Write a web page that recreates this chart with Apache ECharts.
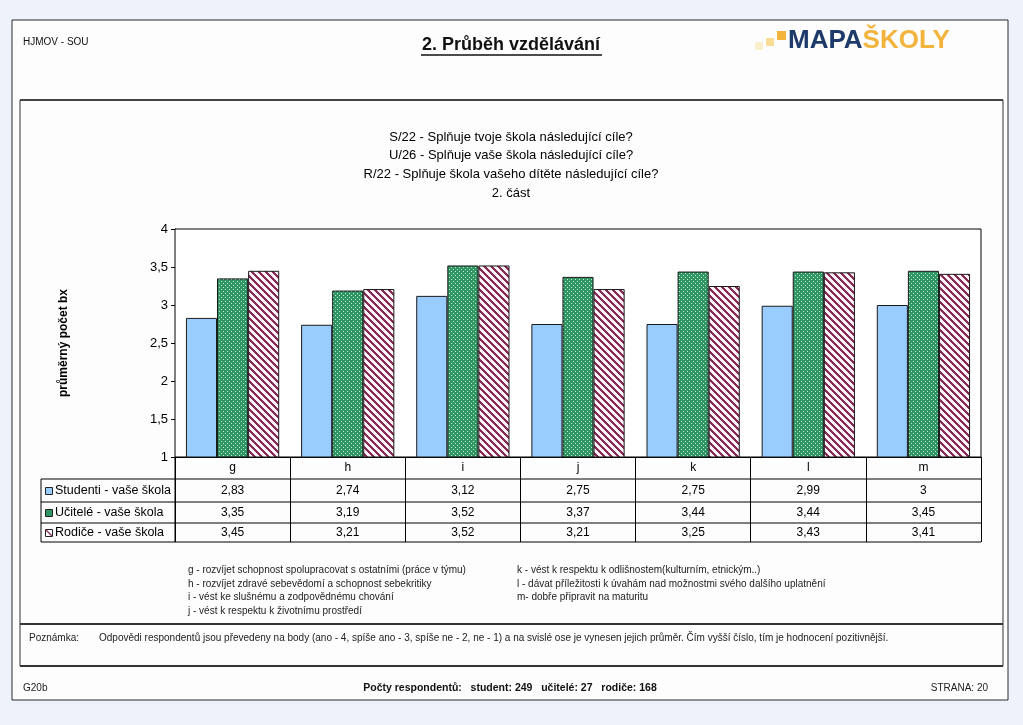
<!DOCTYPE html>
<html><head><meta charset="utf-8">
<script src="https://cdn.jsdelivr.net/npm/echarts@6/dist/echarts.min.js"></script>
<style>html,body{margin:0;padding:0;background:#eef2fa}#c{width:1023px;height:725px}</style>
</head><body><div id="c"></div>
<script>
// ---------- DATA ----------
const categories = ['g', 'h', 'i', 'j', 'k', 'l', 'm'];
const studenti = [2.83, 2.74, 3.12, 2.75, 2.75, 2.99, 3];
const ucitele  = [3.35, 3.19, 3.52, 3.37, 3.44, 3.44, 3.45];
const rodice   = [3.45, 3.21, 3.52, 3.21, 3.25, 3.43, 3.41];
const seriesNames = ['Studenti - vaše škola', 'Učitelé - vaše škola', 'Rodiče - vaše škola'];
const titleLines = [
  'S/22 - Splňuje tvoje škola následující cíle?',
  'U/26 - Splňuje vaše škola následující cíle?',
  'R/22 - Splňuje škola vašeho dítěte následující cíle?',
  '2. část'
];
const yAxisName = 'průměrný počet bx';
const notesLeft = [
  'g - rozvíjet schopnost spolupracovat s ostatními (práce v týmu)',
  'h - rozvíjet zdravé sebevědomí a schopnost sebekritiky',
  'i - vést ke slušnému a zodpovědnému chování',
  'j - vést k respektu k životnímu prostředí'
];
const notesRight = [
  'k - vést k respektu k odlišnostem(kulturním, etnickým..)',
  'l - dávat příležitosti k úvahám nad možnostmi svého dalšího uplatnění',
  'm- dobře připravit na maturitu'
];
const headerLeft = 'HJMOV - SOU';
const pageTitle = '2. Průběh vzdělávání';
const noteLabel = 'Poznámka:';
const noteText = 'Odpovědi respondentů jsou převedeny na body (ano - 4, spíše ano - 3, spíše ne - 2, ne - 1) a na svislé ose je vynesen jejich průměr. Čím vyšší číslo, tím je hodnocení pozitivnější.';
const footerLeft = 'G20b';
const footerCenter = 'Počty respondentů:   student: 249   učitelé: 27   rodiče: 168';
const footerRight = 'STRANA: 20';

// ---------- PATTERNS ----------
function dotPattern() {
  const c = document.createElement('canvas'); c.width = 4; c.height = 4;
  const g = c.getContext('2d');
  g.fillStyle = '#2f9563'; g.fillRect(0, 0, 4, 4);
  g.fillStyle = '#c8ecd6'; g.fillRect(1, 1, 1, 1); g.fillRect(3, 3, 1, 1);
  return c;
}
function hatchPattern() {
  const n = 7;
  const c = document.createElement('canvas'); c.width = n; c.height = n;
  const g = c.getContext('2d');
  const img = g.createImageData(n, n);
  for (let y = 0; y < n; y++) for (let x = 0; x < n; x++) {
    const d = ((x - y) % n + n) % n;
    const i = (y * n + x) * 4;
    if (d < 3) { img.data[i] = 0x88; img.data[i+1] = 0x2a; img.data[i+2] = 0x56; }
    else { img.data[i] = 0xff; img.data[i+1] = 0xf2; img.data[i+2] = 0xf7; }
    img.data[i+3] = 255;
  }
  g.putImageData(img, 0, 0);
  return c;
}
const fills = [
  '#99ccff',
  { image: dotPattern(), repeat: 'repeat' },
  { image: hatchPattern(), repeat: 'repeat' }
];
const seriesData = [studenti, ucitele, rodice];
const FONT = "'Liberation Sans', Arial, sans-serif";
const fmt = v => String(v).replace('.', ',');

const chart = echarts.init(document.getElementById('c'), null, { renderer: 'canvas' });

const GRID = { left: 175, top: 229, right: 42, bottom: 268 };

chart.setOption({
  backgroundColor: '#eef2fa',
  animation: false,
  textStyle: { fontFamily: FONT },
  grid: Object.assign({ show: true, backgroundColor: '#ffffff', borderColor: '#000', borderWidth: 1, z: 1 }, GRID),
  xAxis: {
    type: 'category', data: categories,
    axisLine: { lineStyle: { color: '#000', width: 1 } },
    axisTick: { show: true, length: 85, lineStyle: { color: '#000' } },
    axisLabel: { color: '#000', fontSize: 12, margin: 5, fontFamily: FONT }
  },
  yAxis: {
    type: 'value', min: 1, max: 4, interval: 0.5,
    name: yAxisName, nameLocation: 'middle', nameGap: 105, nameRotate: 90,
    nameTextStyle: { color: '#000', fontSize: 12, fontWeight: 'bold', fontFamily: FONT },
    axisLine: { show: true, lineStyle: { color: '#000' } },
    axisTick: { show: true, length: 4, lineStyle: { color: '#000' } },
    axisLabel: { color: '#000', fontSize: 13, margin: 7, formatter: v => fmt(v), fontFamily: FONT },
    splitLine: { lineStyle: { color: '#000', width: 1 } }
  },
  series: seriesNames.map((name, k) => ({
    name, type: 'bar', data: seriesData[k],
    barGap: '0%', barCategoryGap: '19%',
    itemStyle: { color: fills[k], borderColor: '#1a1a1a', borderWidth: 1 },
    silent: true, z: 3
  }))
});

// ---------- GRAPHIC (frame, texts, table) ----------
const g = [];
g.push({ type: 'rect', z: -10, shape: { x: 12, y: 20, width: 996, height: 680 }, style: { fill: '#fdfdfd', stroke: '#2a2a2a', lineWidth: 1 } });
g.push({ type: 'line', z: -5, shape: { x1: 20, y1: 100, x2: 1003, y2: 100 }, style: { stroke: '#444', lineWidth: 2 } });
g.push({ type: 'line', z: -5, shape: { x1: 20, y1: 100, x2: 20, y2: 666 }, style: { stroke: '#333', lineWidth: 1 } });
g.push({ type: 'line', z: -5, shape: { x1: 1003, y1: 100, x2: 1003, y2: 666 }, style: { stroke: '#333', lineWidth: 1 } });
g.push({ type: 'line', z: -5, shape: { x1: 20, y1: 624, x2: 1003, y2: 624 }, style: { stroke: '#333', lineWidth: 2 } });
g.push({ type: 'line', z: -5, shape: { x1: 20, y1: 666, x2: 1003, y2: 666 }, style: { stroke: '#333', lineWidth: 2 } });

// header
g.push({ type: 'text', style: { text: headerLeft, x: 23, y: 42, fill: '#111', font: '10px ' + FONT, verticalAlign: 'middle' } });
g.push({ type: 'text', style: { text: pageTitle, x: 511, y: 45, align: 'center', verticalAlign: 'middle', fill: '#111', font: 'bold 18px ' + FONT } });
g.push({ type: 'line', shape: { x1: 421, y1: 55, x2: 602, y2: 55 }, style: { stroke: '#111', lineWidth: 1.5 } });
// logo
g.push({ type: 'rect', shape: { x: 755, y: 42, width: 8, height: 8 }, style: { fill: '#fcefd0' } });
g.push({ type: 'rect', shape: { x: 766, y: 38, width: 8, height: 8 }, style: { fill: '#f9dc98' } });
g.push({ type: 'rect', shape: { x: 777, y: 31, width: 9, height: 9 }, style: { fill: '#f3b43c' } });
g.push({ type: 'text', style: {
  text: '{a|MAPA}{b|ŠKOLY}', x: 788, y: 41, verticalAlign: 'middle',
  rich: {
    a: { fill: '#1d3a6a', fontSize: 26, fontWeight: 'bold', fontFamily: FONT },
    b: { fill: '#f2b43c', fontSize: 26, fontWeight: 'bold', fontFamily: FONT }
  }
} });

// chart title
titleLines.forEach((t, i) => {
  g.push({ type: 'text', style: { text: t, x: 511, y: 137 + i * 18.7, align: 'center', verticalAlign: 'middle', fill: '#000', font: '13px ' + FONT } });
});

// data table
const rowY = [479, 502, 523, 542];
const tableLeft = 41, tableRight = 1023 - GRID.right;
rowY.forEach(y => g.push({ type: 'line', shape: { x1: tableLeft, y1: y, x2: tableRight, y2: y }, style: { stroke: '#000', lineWidth: 1 } }));
g.push({ type: 'line', shape: { x1: tableLeft, y1: rowY[0], x2: tableLeft, y2: rowY[3] }, style: { stroke: '#000', lineWidth: 1 } });
g.push({ type: 'line', shape: { x1: GRID.left, y1: 457, x2: GRID.left, y2: rowY[3] }, style: { stroke: '#000', lineWidth: 1 } });

seriesNames.forEach((name, k) => {
  const cy = (rowY[k] + rowY[k + 1]) / 2 + 0.5;
  g.push({ type: 'rect', shape: { x: 45.5, y: cy - 3.5, width: 7, height: 7 }, style: { fill: k === 0 ? '#99ccff' : (k === 1 ? '#2f9563' : '#fff'), stroke: '#222', lineWidth: 1 } });
  if (k === 2) {
    g.push({ type: 'line', shape: { x1: 46, y1: cy - 3, x2: 52, y2: cy + 3 }, style: { stroke: '#8a2c58', lineWidth: 1.2 } });
  }
  g.push({ type: 'text', style: { text: name, x: 55, y: cy, verticalAlign: 'middle', fill: '#000', font: '12.5px ' + FONT } });
  categories.forEach((c, i) => {
    const x = chart.convertToPixel({ xAxisIndex: 0 }, c);
    g.push({ type: 'text', style: { text: fmt(seriesData[k][i]), x, y: cy, align: 'center', verticalAlign: 'middle', fill: '#000', font: '12px ' + FONT } });
  });
});

// notes
notesLeft.forEach((t, i) => g.push({ type: 'text', style: { text: t, x: 188, y: 570 + i * 13.8, verticalAlign: 'middle', fill: '#222', font: '10px ' + FONT } }));
notesRight.forEach((t, i) => g.push({ type: 'text', style: { text: t, x: 517, y: 570 + i * 13.8, verticalAlign: 'middle', fill: '#222', font: '10px ' + FONT } }));

// Poznámka
g.push({ type: 'text', style: { text: noteLabel, x: 29, y: 638, verticalAlign: 'middle', fill: '#222', font: '10px ' + FONT } });
g.push({ type: 'text', style: { text: noteText, x: 99, y: 638, verticalAlign: 'middle', fill: '#222', font: '10px ' + FONT } });

// footer
g.push({ type: 'text', style: { text: footerLeft, x: 23, y: 688, verticalAlign: 'middle', fill: '#222', font: '10px ' + FONT } });
g.push({ type: 'text', style: { text: footerCenter, x: 510, y: 688, align: 'center', verticalAlign: 'middle', fill: '#111', font: 'bold 10.5px ' + FONT } });
g.push({ type: 'text', style: { text: footerRight, x: 988, y: 688, align: 'right', verticalAlign: 'middle', fill: '#222', font: '10px ' + FONT } });

chart.setOption({ graphic: { elements: g } });
</script>
</body></html>
